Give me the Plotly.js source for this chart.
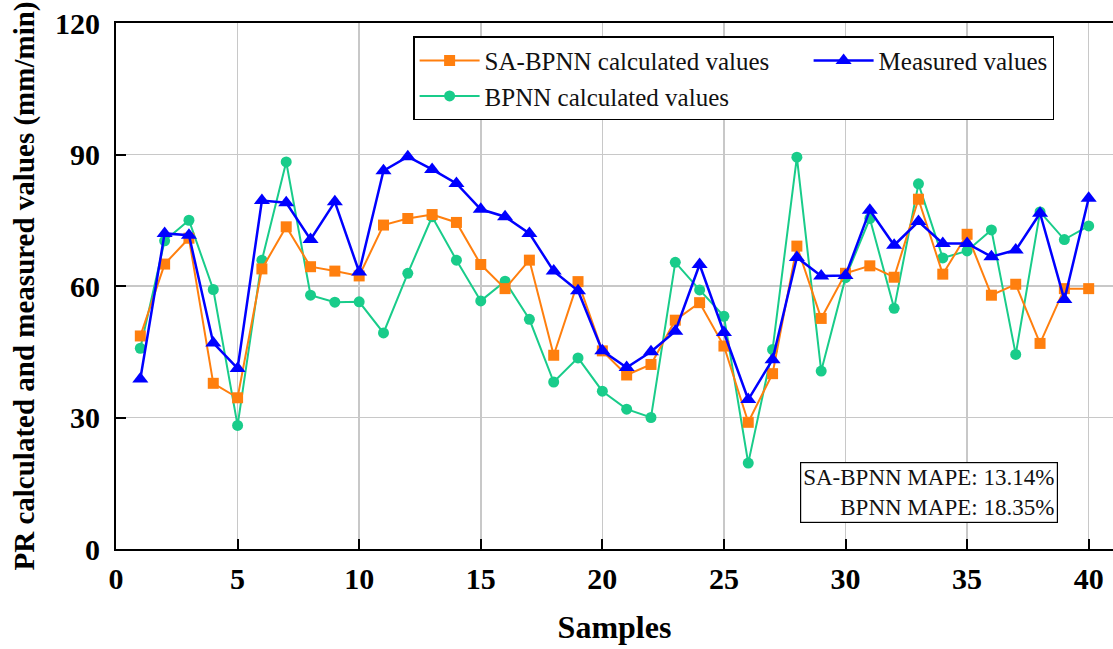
<!DOCTYPE html>
<html>
<head>
<meta charset="utf-8">
<script src="https://cdn.plot.ly/plotly-3.0.1.min.js"></script>
<style>html,body{margin:0;padding:0;background:#fff;}#chart{width:1113px;height:649px;}</style>
</head>
<body>
<div id="chart"></div>
<script>
const samples = [1,2,3,4,5,6,7,8,9,10,11,12,13,14,15,16,17,18,19,20,21,22,23,24,25,26,27,28,29,30,31,32,33,34,35,36,37,38,39,40];
const saBpnnValues = [48.6,65.0,70.9,37.8,34.5,63.9,73.5,64.4,63.4,62.3,73.9,75.4,76.3,74.5,64.9,59.4,65.9,44.2,61.0,45.2,39.7,42.1,52.2,56.2,46.3,28.9,40.0,69.1,52.6,62.9,64.6,62.0,79.8,62.7,71.8,57.9,60.4,46.9,59.4,59.4];
const measuredValues = [38.8,72.0,71.6,47.0,41.2,79.5,79.0,70.6,79.2,63.2,86.3,89.5,86.6,83.4,77.5,75.8,72.0,63.4,58.9,45.2,41.4,45.0,49.7,64.9,49.4,34.1,43.2,66.5,62.3,62.4,77.3,69.3,74.7,69.7,69.7,66.7,68.2,76.6,56.9,80.0];
const bpnnValues = [45.8,70.3,75.0,59.2,28.2,65.9,88.3,57.9,56.3,56.4,49.3,62.9,75.8,65.9,56.6,61.1,52.4,38.1,43.6,36.0,31.9,30.0,65.4,59.1,53.1,19.6,45.5,89.4,40.6,61.9,75.4,54.9,83.3,66.4,68.0,72.8,44.4,76.9,70.6,73.7];
const xTicks = [0,5,10,15,20,25,30,35,40];
const yTicks = [0,30,60,90,120];
const seriesNames = ['SA-BPNN calculated values','Measured values','BPNN calculated values'];
const mapeText = 'SA-BPNN MAPE: 13.14%<br>BPNN MAPE: 18.35%';

const serif = '"Liberation Serif", "Times New Roman", serif';
const traces = [
  {x: samples, y: bpnnValues, name: seriesNames[2], type: 'scatter', mode: 'lines+markers',
   line: {color: '#19CC8A', width: 2}, marker: {symbol: 'circle', size: 11, color: '#19CC8A'},
   legendrank: 3, legendwidth: 300},
  {x: samples, y: saBpnnValues, name: seriesNames[0], type: 'scatter', mode: 'lines+markers',
   line: {color: '#FF7F0E', width: 2}, marker: {symbol: 'square', size: 11, color: '#FF7F0E'},
   legendrank: 1, legendwidth: 319},
  {x: samples, y: measuredValues, name: seriesNames[1], type: 'scatter', mode: 'lines+markers',
   line: {color: '#0000FF', width: 2.5}, marker: {symbol: 'triangle-up', size: 14, color: '#0000FF'},
   legendrank: 2}
];

const layout = {
  width: 1113, height: 649,
  margin: {l: 116, r: 0, t: 23, b: 100},
  paper_bgcolor: '#fff', plot_bgcolor: '#fff',
  showlegend: true,
  legend: {
    x: 0.298, y: 0.975, xanchor: 'left', yanchor: 'top',
    orientation: 'h', itemwidth: 60, traceorder: 'normal',
    font: {family: serif, size: 25, color: '#111'},
    bgcolor: '#fff', bordercolor: '#000', borderwidth: 1.5
  },
  xaxis: {
    range: [0, 41], tickvals: xTicks, ticktext: xTicks.map(String),
    showgrid: true, gridcolor: '#c8c8c8', gridwidth: 1.5,
    showline: true, linecolor: '#000', linewidth: 2, mirror: true,
    ticks: 'inside', ticklen: 10, tickwidth: 2, tickcolor: '#000',
    zeroline: false, ticklabelstandoff: 2,
    tickfont: {family: serif, size: 30, color: '#000', weight: 'bold'},
    title: {text: '<b>Samples</b>', font: {family: serif, size: 32, color: '#000'}, standoff: 22}
  },
  yaxis: {
    range: [0, 120], tickvals: yTicks, ticktext: yTicks.map(String),
    showgrid: true, gridcolor: '#c8c8c8', gridwidth: 1.5,
    showline: true, linecolor: '#000', linewidth: 2,
    ticks: 'inside', ticklen: 10, tickwidth: 2, tickcolor: '#000',
    zeroline: false, ticklabelstandoff: 8,
    tickfont: {family: serif, size: 30, color: '#000', weight: 'bold'},
    title: {text: '<b>PR calculated and measured values (mm/min)</b>', font: {family: serif, size: 29, color: '#000'}, standoff: 12}
  },
  annotations: [{
    xref: 'paper', yref: 'paper', x: 0.945, y: 0.049, xanchor: 'right', yanchor: 'bottom',
    text: mapeText, align: 'right', showarrow: false,
    font: {family: serif, size: 23, color: '#111'},
    bordercolor: '#000', borderwidth: 1.2, borderpad: 2, bgcolor: '#fff'
  }]
};

Plotly.newPlot('chart', traces, layout, {displayModeBar: false, staticPlot: true});
</script>
</body>
</html>
